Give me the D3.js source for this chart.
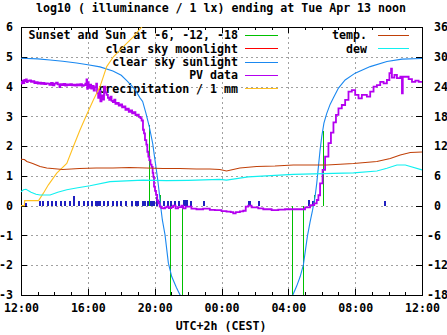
<!DOCTYPE html>
<html><head><meta charset="utf-8">
<script src="https://cdn.jsdelivr.net/npm/d3@7"></script>
<style>
html,body{margin:0;padding:0;background:#fff;}
svg{display:block;}
text{font-family:"DejaVu Sans Mono",monospace;font-weight:bold;font-size:11.6px;fill:#000;white-space:pre;}
</style></head><body>
<div id="chart"></div>
<script>
// ---- data (hours since 12:00 Apr 12) ----
const xTickHours = [0,4,8,12,16,20,24];
const xTickLabels = ["12:00","16:00","20:00","00:00","04:00","08:00","12:00"];
const yTicks = [-3,-2,-1,0,1,2,3,4,5,6];
const y2Ticks = [-18,-12,-6,0,6,12,18,24,30,36];
const legendLeft = ["Sunset and Sun at -6, -12, -18","clear sky moonlight","clear sky sunlight","PV data","precipitation / 1 mm"];
const legendRight = ["temp.","dew"];
const title = "log10 ( illuminance / 1 lx) ending at Tue Apr 13 noon";
const xTitle = "UTC+2h (CEST)";

// Sunset / sun at -6,-12,-18 (impulses)
const sunTimes  = [7.68, 8.32, 8.94, 9.65, 16.2, 16.9, 17.54, 18.1];
const sunValues = [2.72, 0.35, -4.0, -4.5, -4.5, -4.0, 0.35, 2.5];

// clear sky sunlight
const skyTimes  = [0,1,1.74,2.5,3.33,4,4.73,5.5,6,6.33,6.8,7.12,7.28,7.48,7.68,7.88,8.02,8.16,8.28,8.36,8.46,8.62,8.82,9.02,9.3,9.52,9.8,
                   16.0,16.27,16.5,16.71,16.9,17.14,17.3,17.45,17.6,17.7,17.8,17.9,18.0,18.13,18.3,18.5,18.7,19.0,19.4,20.0,20.9,21.9,22.8,24];
const skyValues = [4.95,4.93,4.89,4.85,4.79,4.73,4.66,4.52,4.38,4.2,3.92,3.62,3.5,3.1,2.65,2.09,1.53,0.97,0.41,-0.03,-0.48,-0.98,-1.93,-2.38,-2.75,-3.0,-3.4,
                   -3.4,-3.0,-2.7,-2.38,-1.99,-1.03,-0.55,-0.15,0.3,0.75,1.31,1.87,2.32,2.77,3.1,3.4,3.62,3.95,4.22,4.45,4.67,4.84,4.92,4.94];

// PV data
const pvTimes = [0.00,0.05,0.10,0.15,0.20,0.25,0.30,0.35,0.40,0.50,0.60,0.70,0.80,0.90,1.00,1.10,1.20,1.30,1.40,1.50,1.60,1.70,1.80,1.90,2.00,2.10,2.20,2.30,2.35,2.45,2.55,2.65,2.75,2.85,2.95,3.05,3.15,3.25,3.35,3.45,3.55,3.65,3.75,3.85,3.92,3.96,4.00,4.05,4.12,4.20,4.28,4.35,4.42,4.50,4.55,4.62,4.68,4.75,4.82,4.90,4.97,5.05,5.12,5.20,5.28,5.35,5.42,5.50,5.58,5.65,5.75,5.85,5.95,6.05,6.15,6.25,6.35,6.45,6.55,6.65,6.75,6.85,6.95,7.05,7.15,7.22,7.30,7.36,7.42,7.50,7.56,7.62,7.68,7.75,7.82,7.88,7.92,7.96,8.02,8.08,8.15,8.22,8.30,8.40,8.52,8.62,8.72,8.85,9.0,9.1,9.25,9.4,9.6,9.7,9.85,10.0,10.2,10.5,10.9,11.3,11.6,12.0,12.3,12.55,12.7,12.85,13.1,13.3,13.45,13.6,13.8,14.2,14.5,15.0,15.4,15.8,16.3,16.8,17.0,17.3,17.55,17.7,17.8,17.9,18.05,18.2,18.4,18.55,18.7,18.85,19.0,19.2,19.4,19.6,19.8,20.0,20.2,20.4,20.7,20.9,21.1,21.3,21.5,21.7,21.9,22.05,22.15,22.2,22.35,22.5,22.7,22.8,22.85,23.0,23.2,23.4,23.6,23.8,24.0];
const pvValues = [4.10,4.16,4.20,4.12,4.22,4.18,4.24,4.15,4.19,4.21,4.16,4.18,4.12,4.15,4.10,4.13,4.09,4.12,4.08,4.11,4.10,4.06,4.12,4.04,4.10,4.13,4.07,3.98,4.08,4.05,4.09,4.03,4.07,4.05,4.08,4.04,4.06,4.03,4.07,4.04,4.08,4.02,4.05,4.10,4.24,3.92,4.15,3.96,4.06,3.93,4.02,3.86,3.98,4.10,3.78,3.62,3.85,3.50,3.70,3.56,4.00,3.80,3.72,3.62,3.55,3.66,3.52,3.48,3.56,3.42,3.45,3.36,3.40,3.30,3.33,3.22,3.26,3.15,3.20,3.10,3.14,3.04,3.06,2.98,2.94,2.86,2.55,2.43,2.20,2.05,1.81,1.65,1.53,1.38,1.30,1.10,0.97,0.64,0.50,0.36,0.18,0.08,-0.03,-0.08,-0.09,-0.06,-0.03,-0.08,-0.05,0.0,-0.09,-0.05,0.0,-0.09,-0.03,-0.03,-0.10,-0.12,-0.10,-0.14,-0.15,-0.18,-0.20,-0.22,-0.26,-0.22,-0.19,-0.17,-0.03,0.0,-0.06,-0.09,-0.12,-0.15,-0.13,-0.12,-0.12,-0.12,-0.06,0.02,0.08,0.19,0.35,0.75,1.2,1.65,2.1,2.45,2.8,3.05,3.27,3.38,3.55,3.83,3.88,3.72,3.60,3.72,3.66,3.83,4.00,4.05,4.16,4.11,4.22,4.45,4.60,4.30,4.39,4.28,4.33,3.77,4.33,4.33,4.25,4.16,4.20,4.16,4.18];

// precipitation / 1 mm
const rainTimes  = [0,0.2,0.22,1.05,1.34,1.64,2.14,2.74,3.13,3.53,3.93,4.33,4.73,5.13,5.53,6.13,6.72,7.23,7.5];
const rainValues = [0,0,0.17,0.17,0.42,0.7,1.09,1.42,1.98,2.54,3.05,3.55,4.0,4.67,5.0,5.34,5.67,6.0,6.2];

// rain sensor events (dark blue marks)
const eventTimes   = [0.24,1.10,1.27,1.54,1.78,2.03,2.33,2.59,2.87,3.13,3.43,3.69,3.93,4.19,4.43,4.55,4.67,4.93,5.17,5.43,5.69,5.93,6.22,6.58,6.82,6.96,7.22,7.36,7.52,7.72,7.84,7.90,8.08,8.28,8.52,8.72,8.92,9.16,9.41,9.70,9.79,9.86,10.11,10.87,13.57,13.66,14.20,17.20,17.42,21.73];
const eventHeights = [0.1,0.17,0.17,0.17,0.17,0.17,0.17,0.17,0.17,0.33,0.17,0.17,0.17,0.17,0.17,0.17,0.17,0.17,0.17,0.17,0.17,0.17,0.17,0.17,0.17,0.17,0.17,0.17,0.17,0.17,0.17,0.17,0.3,0.17,0.17,0.17,0.17,0.17,0.17,0.2,0.2,0.2,0.17,0.17,0.17,0.17,0.17,0.19,0.17,0.17];

// temperature and dew point (°C, right axis)
const tempTimes  = [0,0.2,0.35,0.7,1.14,1.54,2.5,3.5,4.5,5.5,6.5,7.5,8.5,9.5,10.5,11.3,11.9,12.3,12.7,13.1,14.1,15.2,16.3,18.3,19.9,21.3,22.1,22.7,23.3,24];
const tempValues = [9.35,9.3,8.9,8.5,7.9,7.6,7.3,7.5,7.6,7.6,7.7,7.6,7.5,7.5,7.4,7.4,7.3,7.0,7.3,7.6,7.9,8.0,8.2,8.2,8.5,8.9,9.5,10.2,10.7,10.8];
const dewTimes  = [0,0.15,0.3,0.6,0.9,1.14,1.74,2.2,2.74,3.4,4.13,5.33,6.3,7.3,8.7,10.0,11.9,12.3,13.6,16.3,19.9,21.3,21.9,22.5,23.0,24];
const dewValues = [2.8,3.2,3.3,2.7,2.3,2.15,2.15,2.7,3.2,3.6,4.0,4.85,5.0,5.15,5.05,5.1,5.3,5.15,5.8,6.3,6.6,7.0,7.55,8.2,8.2,7.2];

// ---- drawing ----
const W = 447, H = 335;
const L = 21, R = 422, T = 27, B = 295;
const C = {green:"#00c000", red:"#ff0000", blue:"#1a88f0", purple:"#b400f0", orange:"#ffc020", temp:"#c04008", dew:"#10f0f0", events:"#2020c0", grid:"#a0a0a0"};

const svg = d3.select("#chart").append("svg").attr("width", W).attr("height", H);
const x = d3.scaleLinear().domain([0,24]).range([L,R]);
const y = d3.scaleLinear().domain([-3,6]).range([B,T]);
const y2 = d3.scaleLinear().domain([-18,36]).range([B,T]);

svg.append("defs").append("clipPath").attr("id","clip")
  .append("rect").attr("x",L).attr("y",T).attr("width",R-L).attr("height",B-T);

// grid
const grid = svg.append("g").attr("stroke",C.grid).attr("stroke-dasharray","2,3").attr("stroke-width",1).attr("shape-rendering","crispEdges");
grid.selectAll("line.gx").data(xTickHours.slice(1,-1)).join("line")
  .attr("x1",d=>Math.round(x(d))+0.5).attr("x2",d=>Math.round(x(d))+0.5).attr("y1",T).attr("y2",B);
grid.selectAll("line.gy").data(yTicks.slice(1,-1)).join("line")
  .attr("y1",d=>Math.round(y(d))+0.5).attr("y2",d=>Math.round(y(d))+0.5).attr("x1",L).attr("x2",R);

// axes
function styleAxis(g){ g.select(".domain").remove(); g.selectAll("line").attr("stroke","#000").attr("shape-rendering","crispEdges"); g.selectAll("text").attr("font-family",null).attr("font-size",null).style("fill","#000"); g.attr("font-family",null).attr("font-size",null); }
const minorHours = d3.range(0,25);
svg.append("g").attr("transform",`translate(0,${B})`)
  .call(d3.axisBottom(x).tickValues(minorHours).tickSize(-3).tickFormat(""))
  .call(styleAxis);
svg.append("g").attr("transform",`translate(0,${T})`)
  .call(d3.axisTop(x).tickValues(minorHours).tickSize(-3).tickFormat(""))
  .call(styleAxis);
svg.append("g").attr("transform",`translate(0,${B})`)
  .call(d3.axisBottom(x).tickValues(xTickHours).tickSize(-6).tickPadding(9).tickFormat((d,i)=>xTickLabels[i]))
  .call(styleAxis);
svg.append("g").attr("transform",`translate(0,${T})`)
  .call(d3.axisTop(x).tickValues(xTickHours).tickSize(-6).tickFormat(""))
  .call(styleAxis);
svg.append("g").attr("transform",`translate(${L},0)`)
  .call(d3.axisLeft(y).tickValues(yTicks).tickSize(-6).tickPadding(8).tickFormat(d=>(d<0?"":" ")+d))
  .call(styleAxis);
svg.append("g").attr("transform",`translate(${R},0)`)
  .call(d3.axisRight(y2).tickValues(y2Ticks).tickSize(-6).tickPadding(5).tickFormat(d=>(d<0?"":" ")+d))
  .call(styleAxis);

// border
svg.append("rect").attr("x",L+0.5).attr("y",T+0.5).attr("width",R-L).attr("height",B-T)
  .attr("fill","none").attr("stroke","#000").attr("stroke-width",1).attr("shape-rendering","crispEdges");

// title and x label
svg.append("text").attr("x",221).attr("y",12).attr("text-anchor","middle").text(title);
svg.append("text").attr("x",221).attr("y",330).attr("text-anchor","middle").text(xTitle);

// legend (drawn before data)
const rowY = i => 35 + i*13.33;
const leftColors = [C.green, C.red, C.blue, C.purple, C.orange];
const rightColors = [C.temp, C.dew];
const lg = svg.append("g");
legendLeft.forEach((t,i)=>{
  lg.append("text").attr("x",238).attr("y",rowY(i)+4.2).attr("text-anchor","end").text(t);
  lg.append("line").attr("x1",245).attr("x2",278).attr("y1",Math.round(rowY(i))+0.5).attr("y2",Math.round(rowY(i))+0.5)
    .attr("stroke",leftColors[i]).attr("stroke-width",i===3?1.6:1).attr("shape-rendering","crispEdges");
});
legendRight.forEach((t,i)=>{
  lg.append("text").attr("x",367).attr("y",rowY(i)+4.2).attr("text-anchor","end").text(t);
  lg.append("line").attr("x1",378).attr("x2",409).attr("y1",Math.round(rowY(i))+0.5).attr("y2",Math.round(rowY(i))+0.5)
    .attr("stroke",rightColors[i]).attr("stroke-width",1).attr("shape-rendering","crispEdges");
});

// data
const plot = svg.append("g").attr("clip-path","url(#clip)");
const zip = (a,b)=>a.map((t,i)=>[t,b[i]]);

// rain sensor events
plot.selectAll("line.ev").data(zip(eventTimes,eventHeights)).join("line")
  .attr("x1",d=>Math.round(x(d[0]))+0.5).attr("x2",d=>Math.round(x(d[0]))+0.5)
  .attr("y1",y(0)).attr("y2",d=>y(d[1]))
  .attr("stroke",C.events).attr("stroke-width",2).attr("shape-rendering","crispEdges");

// sun impulses
plot.selectAll("line.sun").data(zip(sunTimes,sunValues)).join("line")
  .attr("x1",d=>Math.round(x(d[0]))+0.5).attr("x2",d=>Math.round(x(d[0]))+0.5)
  .attr("y1",y(0)).attr("y2",d=>y(d[1]))
  .attr("stroke",C.green).attr("stroke-width",1).attr("shape-rendering","crispEdges");

const line = d3.line().x(d=>x(d[0])).y(d=>y(d[1]));
const line2 = d3.line().x(d=>x(d[0])).y(d=>y2(d[1]));

plot.append("path").datum(zip(skyTimes,skyValues)).attr("d",line).attr("fill","none").attr("stroke",C.blue).attr("stroke-width",1.1);
plot.append("path").datum(zip(pvTimes,pvValues)).attr("d",d3.line().curve(d3.curveStepAfter).x(d=>x(d[0])).y(d=>y(d[1])))
  .attr("fill","none").attr("stroke",C.purple).attr("stroke-width",1.8);
plot.append("path").datum(zip(rainTimes,rainValues)).attr("d",line).attr("fill","none").attr("stroke",C.orange).attr("stroke-width",1.1);
plot.append("path").datum(zip(tempTimes,tempValues)).attr("d",line2).attr("fill","none").attr("stroke",C.temp).attr("stroke-width",1.1);
plot.append("path").datum(zip(dewTimes,dewValues)).attr("d",line2).attr("fill","none").attr("stroke",C.dew).attr("stroke-width",1.1);
</script>
</body></html>
